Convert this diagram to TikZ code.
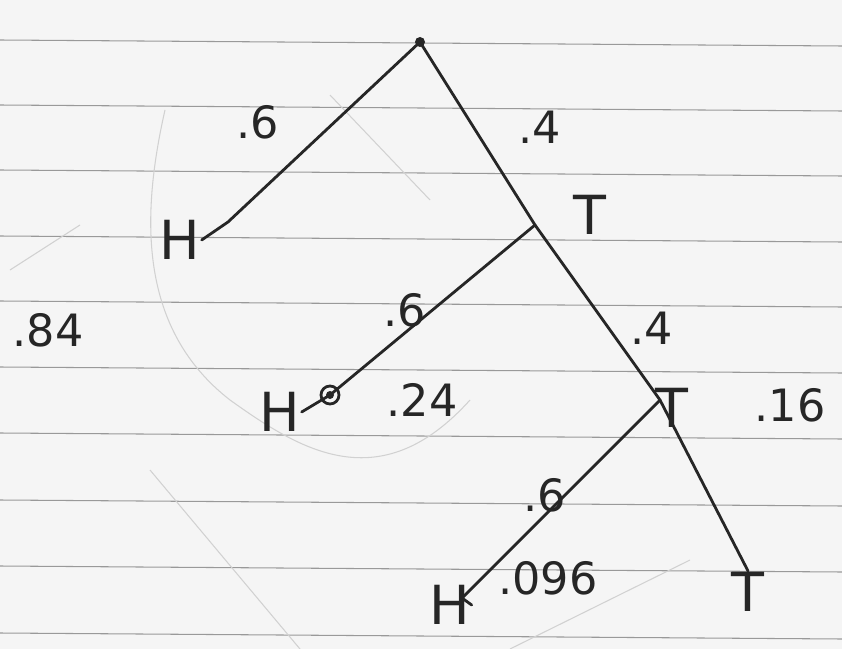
\documentclass[tikz,border=0pt]{standalone}
\usepackage{fontspec}
\setmainfont{DejaVu Sans}
\begin{document}
\begin{tikzpicture}[x=0.03cm,y=-0.03cm,
  branch/.style={line width=2.4pt, line cap=round, black!85},
  ruled/.style={line width=0.9pt, black!40},
  pencil/.style={line width=0.9pt, black!18},
  hand/.style={font=\fontsize{46}{48}\selectfont, text=black!85, inner sep=1pt},
  prob/.style={font=\fontsize{38}{40}\selectfont, text=black!85, inner sep=1pt}]
\fill[white!96!black] (0,0) rectangle (842,649);
\useasboundingbox (0,0) rectangle (842,649);
% ruled lines of the paper
\foreach \y in {40,105,170,236,301,367,433,500,566,633}
  \draw[ruled] (0,\y) -- (842,\y+6);
% faint pencil marks
\draw[pencil] (165,110) .. controls (140,220) and (140,330) .. (230,400)
  .. controls (300,450) and (380,500) .. (470,400);
\draw[pencil] (330,95) -- (430,200);
\draw[pencil] (10,270) -- (80,225);
\draw[pencil] (150,470) -- (300,649);
\draw[pencil] (510,649) -- (690,560);
% tree points
\coordinate (root) at (420,42);
\coordinate (t1) at (535,225);
\coordinate (h2p) at (330,395);
\coordinate (t2) at (660,400);
\coordinate (h1p) at (228,222);
\coordinate (h3p) at (462,598);
\coordinate (t3p) at (745,565);
% outcome letters
\node[hand] (h1) at (180,240) {H};
\node[hand] (t1l) at (590,215) {T};
\node[hand] (h2) at (280,412) {H};
\node[hand] (t2l) at (672,408) {T};
\node[hand] (h3) at (450,605) {H};
\node[hand] (t3) at (748,592) {T};
% branches
\draw[branch] (root) -- (h1p) -- (h1.east);
\draw[branch] (root) -- (t1);
\draw[branch] (t1) -- (h2p) -- (h2.east);
\draw[branch] (t1) -- (t2);
\draw[branch] (t2) -- (h3p) -- (h3.east);
\draw[branch] (t2) -- (t3.north);
\fill[black!85] (root) circle (5);
\draw[branch] (h2p) circle (9);
\fill[black!85] (h2p) circle (4);
% branch probabilities
\node[prob] (p1) at (258,122) {.6};
\node[prob] (p2) at (540,127) {.4};
\node[prob] (p3) at (405,310) {.6};
\node[prob] (p4) at (652,328) {.4};
\node[prob] (p5) at (545,495) {.6};
% outcome probabilities
\node[prob] (r1) at (422,400) {.24};
\node[prob] (r2) at (790,405) {.16};
\node[prob] (r3) at (548,578) {.096};
\node[prob] (r4) at (48,330) {.84};
\end{tikzpicture}
\end{document}
